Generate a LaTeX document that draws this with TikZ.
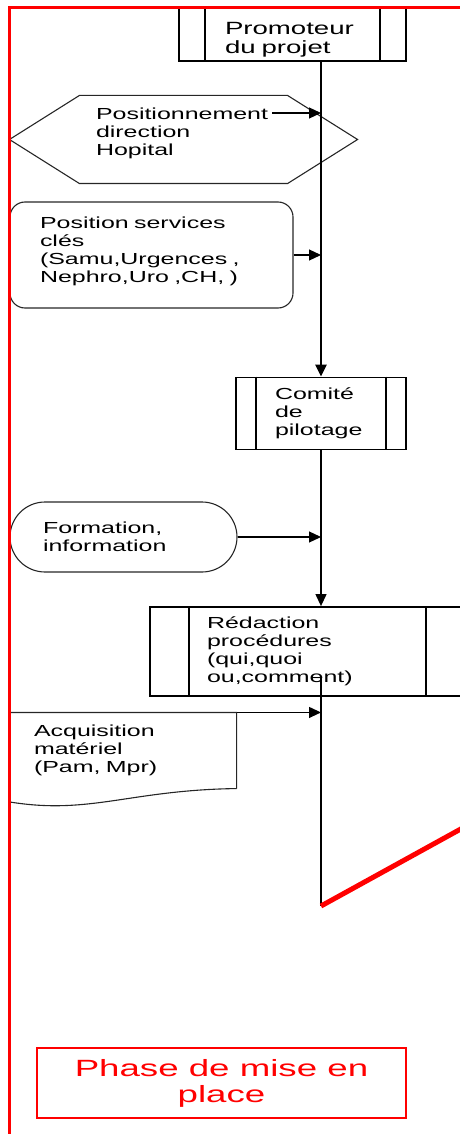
\documentclass[tikz,border=0pt]{standalone}
\usepackage{fontspec}
\newfontfamily\flowfont{Liberation Sans}[FakeStretch=1.56]
\usetikzlibrary{arrows.meta}

\begin{document}
\begin{tikzpicture}[x=1pt,y=-1pt,
  proc/.style={draw, line width=1.8, inner sep=2, align=left, font=\flowfont\fontsize{16}{18}\selectfont},
  ins/.style={draw=black!85, line width=1.1, inner sep=2, align=left, font=\flowfont\fontsize{16}{18}\selectfont},
  flow/.style={line width=2.4, -{Triangle[length=12,width=11]}},
  feed/.style={line width=1.2, -{Triangle[length=12,width=11]}}]
\useasboundingbox (0,0) rectangle (459,1134);

\node[proc, minimum width=227, minimum height=53, text width=135, text height=22, font=\flowfont\fontsize{17.7}{19}\selectfont] (prom) at (292.5,34.5) {Promoteur\\du projet};
\draw[line width=1.8] ([xshift=27]prom.north west) -- ([xshift=27]prom.south west);
\draw[line width=1.8] ([xshift=-27]prom.north east) -- ([xshift=-27]prom.south east);

\node[ins, draw=none, minimum width=347, minimum height=87, text width=175, text depth=51] (hexa) at (183.5,139.5) {Positionnement\\direction\\Hopital};
\draw[black!85, line width=1.1] (hexa.west) -- ([xshift=70]hexa.north west) -- ([xshift=-70]hexa.north east) -- (hexa.east) -- ([xshift=-70]hexa.south east) -- ([xshift=70]hexa.south west) -- cycle;

\node[ins, rounded corners=15, minimum width=283, minimum height=106, text width=223, text depth=65] (pos) at (151.5,255) {Position services\\clés\\(Samu,Urgences ,\\Nephro,Uro ,CH, )};

\node[proc, minimum width=170, minimum height=72, text width=92] (comite) at (321,413.5) {Comité\\de\\pilotage};
\draw[line width=1.8] ([xshift=21]comite.north west) -- ([xshift=21]comite.south west);
\draw[line width=1.8] ([xshift=-21]comite.north east) -- ([xshift=-21]comite.south east);

\node[ins, rounded corners=35, minimum width=227, minimum height=70, text width=161] (form) at (123.5,537) {Formation,\\information};

\node[proc, minimum width=315, minimum height=89, text width=201] (redac) at (307.5,651.5) {Rédaction\\procédures\\(qui,quoi\\ou,comment)};
\draw[line width=1.8] ([xshift=40]redac.north west) -- ([xshift=40]redac.south west);
\draw[line width=1.8] ([xshift=-40]redac.north east) -- ([xshift=-40]redac.south east);

\node[ins, draw=none, minimum width=226, minimum height=75, text width=178] (doc) at (123,750.5) {Acquisition\\matériel\\(Pam, Mpr)};
\draw[black!85, line width=1.1] (doc.south east) -- (doc.north east) -- (doc.north west) -- (10,802) .. controls (90,815) and (130,790) .. (doc.south east);

\node[draw=red, line width=1.5, text=red, minimum width=369, minimum height=70, align=center, font=\flowfont\fontsize{23.5}{26}\selectfont] (phase) at (221.5,1083) {Phase de mise en\\place};

\coordinate (hexout) at (272,113);
\coordinate (redout) at (321,677);
\coordinate (bend) at (321,906);
\draw[flow] (prom.south -| comite.north) -- (comite.north);
\draw[feed] (hexout) -- (hexout -| comite.north);
\draw[feed] (pos.east) -- (pos.east -| comite.north);
\draw[feed] (comite.south) -- (comite.south |- redac.north);
\draw[feed] (form.east) -- (form.east -| comite.south);
\draw[feed] (doc.north east) -- (doc.north east -| redout);
\draw[line width=2.2] (redout) -- (bend);
\draw[red, line width=5] (bend) -- (480,818.4);

\draw[red, line width=3] (470,8) -- (9,8) -- (9,1150);

\end{tikzpicture}
\end{document}
